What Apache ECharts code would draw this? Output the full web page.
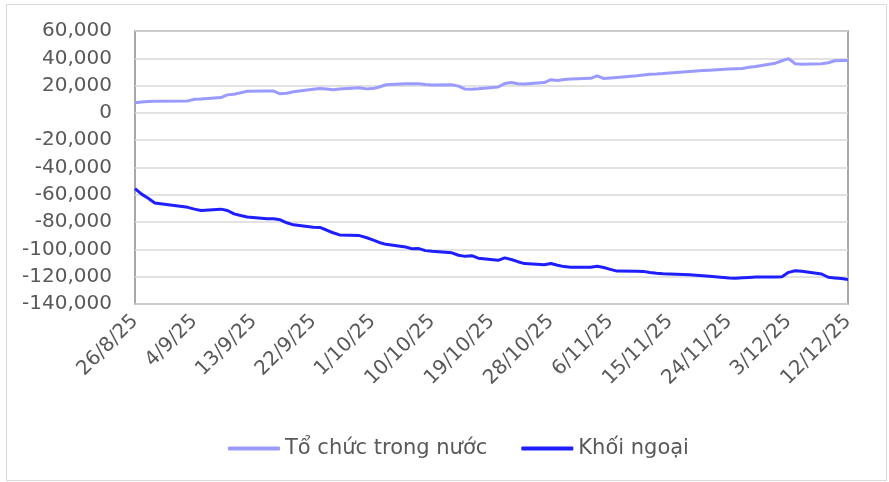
<!DOCTYPE html>
<html>
<head>
<meta charset="utf-8">
<script src="https://cdn.jsdelivr.net/npm/echarts@6/dist/echarts.min.js"></script>
<style>
  html, body { margin: 0; padding: 0; background: #fff; }
  #chart { width: 889px; height: 482px; }
</style>
</head>
<body>
<div id="chart"></div>
<script>
// Trading days (d/m, 2025)
const tradingDates = [
  '26/8','27/8','28/8','29/8',
  '3/9','4/9','5/9',
  '8/9','9/9','10/9','11/9','12/9',
  '15/9','16/9','17/9','18/9','19/9',
  '22/9','23/9','24/9','25/9','26/9',
  '29/9','30/9','1/10','2/10','3/10',
  '6/10','7/10','8/10','9/10','10/10',
  '13/10','14/10','15/10','16/10','17/10',
  '20/10','21/10','22/10','23/10','24/10',
  '27/10','28/10','29/10','30/10','31/10',
  '3/11','4/11','5/11','6/11','7/11',
  '10/11','11/11','12/11','13/11','14/11',
  '17/11','18/11','19/11','20/11','21/11',
  '24/11','25/11','26/11','27/11','28/11',
  '1/12','2/12','3/12','4/12','5/12',
  '8/12','9/12','10/12','11/12','12/12'
];

const toChucTrongNuoc = [
  7500, 8000, 8300, 8500,
  8800, 10000, 10100,
  11200, 13200, 13700, 14800, 15800,
  16000, 16000, 14000, 14400, 15500,
  17300, 17800, 17500, 16900, 17500,
  18400, 17600, 17800, 19000, 20600,
  21300, 21300, 21300, 20800, 20500,
  20600, 19600, 17500, 17400, 17700,
  19000, 21500, 22300, 21400, 21200,
  22200, 24300, 23800, 24400, 24900,
  25300, 27200, 25200, 25600, 26000,
  27200, 27800, 28300, 28500, 28800,
  30000, 30400, 30700, 31000, 31300,
  32200, 32400, 32500, 33500, 34000,
  36400, 38200, 39800, 36000, 35600,
  36000, 36700, 38200, 38400, 38300
];

const khoiNgoai = [
  -55500, -59500, -62500, -66000,
  -69200, -70500, -71500,
  -70500, -71500, -74000, -75200, -76200,
  -77500, -77600, -78300, -80500, -82000,
  -83800, -83900, -85800, -87800, -89400,
  -89900, -91300, -93000, -94900, -96300,
  -98200, -99600, -99400, -100900, -101400,
  -102500, -104300, -105100, -104600, -106400,
  -108000, -106200, -107400, -109000, -110400,
  -111300, -110300, -111600, -112600, -113000,
  -113100, -112300, -113300, -114600, -115900,
  -116000, -116100, -116900, -117500, -117800,
  -118300, -118500, -118900, -119300, -119700,
  -120900, -121200, -120800, -120500, -120300,
  -120300, -120000, -116800, -115600, -116000,
  -118000, -120400, -120900, -121400, -122000
];

const seriesNames = ['Tổ chức trong nước', 'Khối ngoại'];
const axisStart = '26/8/2025';
const axisEnd = '12/12/2025';

// Calendar-day category axis (date axis like the original)
function parseDMY(s) { const p = s.split('/').map(Number); return new Date(p[2], p[1] - 1, p[0]); }
const categories = [];
const keyToIndex = {};
for (let d = parseDMY(axisStart); d <= parseDMY(axisEnd); d.setDate(d.getDate() + 1)) {
  const key = d.getDate() + '/' + (d.getMonth() + 1);
  keyToIndex[key] = categories.length;
  categories.push(key + '/' + String(d.getFullYear()).slice(2));
}
function expand(values) {
  const arr = new Array(categories.length).fill(null);
  tradingDates.forEach((k, i) => { arr[keyToIndex[k]] = values[i]; });
  return arr;
}

const font = 'DejaVu Sans';
const chart = echarts.init(document.getElementById('chart'), null, { renderer: 'canvas' });
chart.setOption({
  animation: false,
  backgroundColor: '#fff',
  graphic: [{
    type: 'rect', left: 4, top: 2,
    shape: { width: 880, height: 476 },
    style: { fill: 'none', stroke: '#d9d9d9', lineWidth: 1 },
    z: -1
  }],
  grid: {
    left: 135, right: 41, top: 31, bottom: 178,
    show: true, borderColor: '#8c8c8c', borderWidth: 1.5,
    containLabel: false
  },
  legend: {
    left: 223, top: 433,
    itemWidth: 52, itemHeight: 4, itemGap: 34,
    icon: 'roundRect',
    textStyle: { fontFamily: font, fontSize: 21, color: '#595959' },
    data: seriesNames
  },
  xAxis: {
    type: 'category',
    data: categories,
    boundaryGap: false,
    axisLine: { show: false },
    axisTick: { show: false },
    splitLine: { show: false },
    axisLabel: {
      interval: 8, rotate: 45, margin: 14,
      fontFamily: font, fontSize: 20, color: '#595959'
    }
  },
  yAxis: {
    type: 'value',
    min: -140000, max: 60000, interval: 20000,
    axisLine: { show: false },
    axisTick: { show: false },
    splitLine: { lineStyle: { color: '#d9d9d9', width: 1.5 } },
    axisLabel: {
      margin: 23, fontFamily: font, fontSize: 20, color: '#595959',
      formatter: v => v.toLocaleString('en-US')
    }
  },
  series: [
    {
      name: seriesNames[0], type: 'line', data: expand(toChucTrongNuoc),
      connectNulls: true, showSymbol: false, symbol: 'none',
      lineStyle: { color: '#9B9BFF', width: 3 },
      itemStyle: { color: '#9B9BFF' }
    },
    {
      name: seriesNames[1], type: 'line', data: expand(khoiNgoai),
      connectNulls: true, showSymbol: false, symbol: 'none',
      lineStyle: { color: '#1E1EFF', width: 3 },
      itemStyle: { color: '#1E1EFF' }
    }
  ]
});
</script>
</body>
</html>
